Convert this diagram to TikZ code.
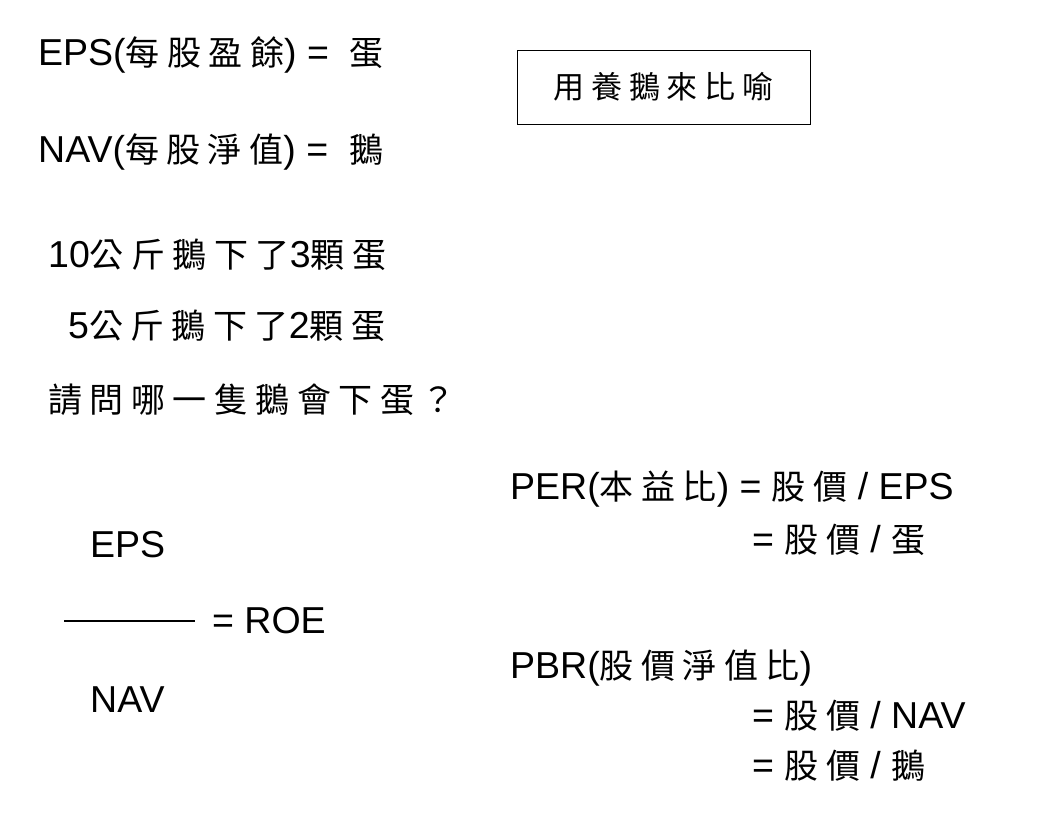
\documentclass[tikz,border=0pt]{standalone}
\usepackage{fontspec}
\setmainfont{Liberation Sans}
\newfontfamily\cjk[LetterSpace=22]{Noto Sans CJK TC}
\newcommand{\zh}[1]{{\cjk\fontsize{34}{40}\selectfont #1}}
\usetikzlibrary{positioning}

\tikzset{
  txt/.style={anchor=west,inner sep=0pt,font=\fontsize{37.5}{44}\selectfont},
  note/.style={draw,line width=0.6pt,minimum width=293pt,minimum height=74pt,
    font=\fontsize{29}{34}\selectfont}
}

\begin{document}
\begin{tikzpicture}[x=1pt,y=-1pt]
\useasboundingbox (0,0) rectangle (1044,826);

% definitions
\node[txt] (eps) at (38,55) {EPS(\zh{每股盈餘}) =\ \ \zh{蛋}};
\node[txt] (nav) at (38,152) {NAV(\zh{每股淨值}) =\ \ \zh{鵝}};
\node[note] (box) at (663.5,87) {{\cjk\fontsize{31}{36}\selectfont 用養鵝來比喻}};

% question
\node[txt] (q1) at (48,255) {10\zh{公斤鵝下了}3\zh{顆蛋}};
\node[txt] (q2) at (68,326) {5\zh{公斤鵝下了}2\zh{顆蛋}};
\node[txt] (q3) at (48,400) {\zh{請問哪一隻鵝會下蛋？}};

% ROE
\node[txt] (num) at (90,545) {EPS};
\coordinate (fl) at (64,621);
\coordinate (fr) at (195,621);
\draw[line width=2pt] (fl) -- (fr);
\node[txt] (roe) at (212,621) {= ROE};
\node[txt] (den) at (90,700) {NAV};

% ratios
\node[txt] (per) at (510,489) {PER(\zh{本益比}) = \zh{股價} / EPS};
\node[txt] (per2) at (752,540) {= \zh{股價} / \zh{蛋}};
\node[txt] (pbr) at (510,668) {PBR(\zh{股價淨值比})};
\node[txt] (pbr2) at (752,716) {= \zh{股價} / NAV};
\node[txt] (pbr3) at (752,766) {= \zh{股價} / \zh{鵝}};
\end{tikzpicture}
\end{document}
